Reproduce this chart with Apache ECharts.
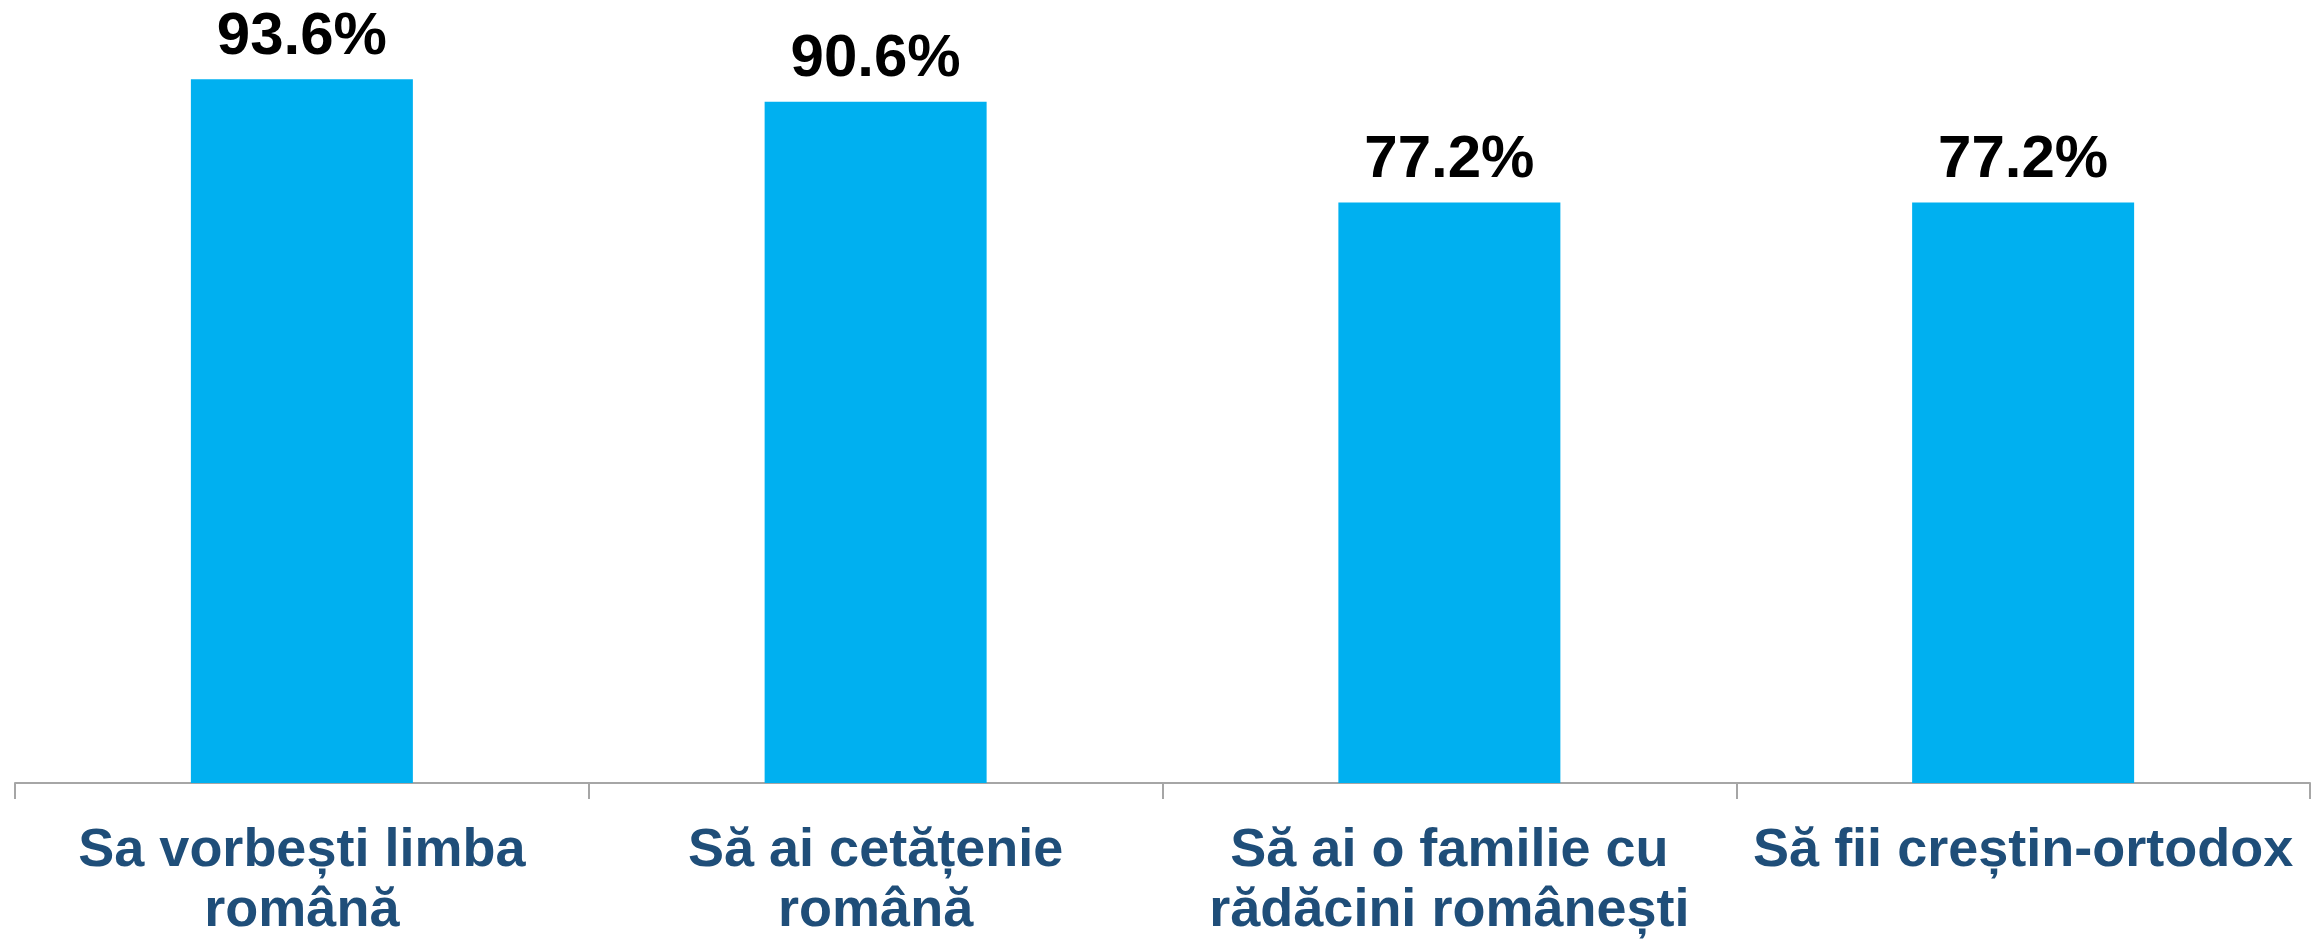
<!DOCTYPE html>
<html>
<head>
<meta charset="UTF-8">
<title>Bar chart</title>
<script src="https://cdn.jsdelivr.net/npm/echarts@6/dist/echarts.min.js"></script>
<style>
  html, body { margin: 0; padding: 0; background: #fff; }
  #main { width: 2318px; height: 941px; }
</style>
</head>
<body>
<div id="main"></div>
<script>
// categories and values
var categories = [
    'Sa vorbești limba\nromână',
    'Să ai cetățenie\nromână',
    'Să ai o familie cu\nrădăcini românești',
    'Să fii creștin-ortodox'
];
var values = [93.6, 90.6, 77.2, 77.2];

var myChart = echarts.init(document.getElementById('main'));

myChart.setOption({
    animation: false,
    grid: {
        left: 15,
        right: 8,
        top: 31,
        bottom: 156,
        containLabel: false
    },
    xAxis: {
        type: 'category',
        data: categories,
        axisLine: { lineStyle: { color: '#a6a6a6', width: 2 } },
        axisTick: { show: true, length: 16, lineStyle: { color: '#a6a6a6', width: 2 } },
        axisLabel: {
            interval: 0,
            margin: 38,
            color: '#1f4e79',
            fontFamily: 'Liberation Sans, Arial, sans-serif',
            fontWeight: 'bold',
            fontSize: 54,
            lineHeight: 60
        }
    },
    yAxis: {
        type: 'value',
        min: 0,
        max: 100,
        show: false,
        splitLine: { show: false }
    },
    series: [{
        type: 'bar',
        data: values,
        barWidth: 222,
        itemStyle: { color: '#00b0f0' },
        label: {
            show: true,
            position: 'top',
            distance: 12,
            color: '#000',
            fontFamily: 'Liberation Sans, Arial, sans-serif',
            fontWeight: 'bold',
            fontSize: 60,
            formatter: function (p) { return p.value.toFixed(1) + '%'; }
        }
    }]
});
</script>
</body>
</html>
